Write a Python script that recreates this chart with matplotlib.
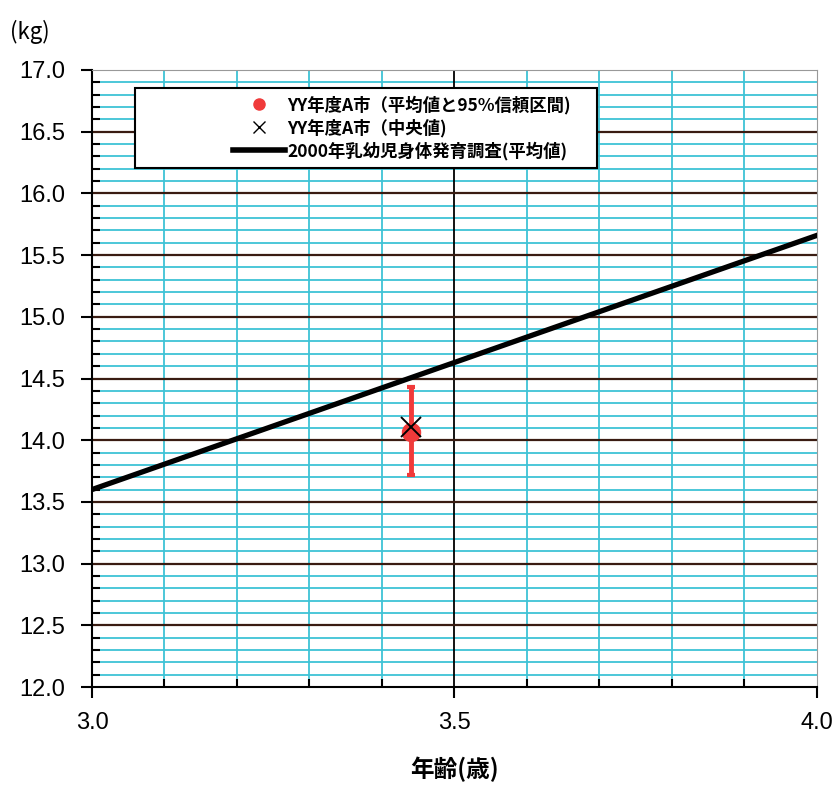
import numpy as np
import matplotlib.pyplot as plt
from matplotlib.patches import Rectangle
from matplotlib.lines import Line2D

plt.rcParams['font.family'] = ['Liberation Sans', 'Noto Sans CJK JP', 'DejaVu Sans']

# reference curve (2000 survey, mean)
ref_age = [3.0, 3.5, 4.0]
ref_weight = [13.60, 14.63, 15.66]

# city A sample
city_age = [3.44]
city_mean = [14.07]
city_lo = [13.72]
city_hi = [14.43]
city_median = [14.11]

xticks = [3.0, 3.5, 4.0]
yticks = [12.0, 12.5, 13.0, 13.5, 14.0, 14.5, 15.0, 15.5, 16.0, 16.5, 17.0]

fig = plt.figure(figsize=(8.35, 7.85), dpi=100)
ax = fig.add_axes([92 / 835, 1 - 687 / 785, 725 / 835, 617 / 785])
ax.set_xlim(3.0, 4.0)
ax.set_ylim(12.0, 17.0)

# grid
cyan = '#3ec3d6'
for v in np.arange(3.1, 4.0, 0.1):
    if abs(v - 3.5) > 1e-6:
        ax.axvline(v, color=cyan, lw=1.3, zorder=1)
ax.axvline(3.5, color='black', lw=1.3, zorder=1.5)
for v in np.arange(12.1, 17.0, 0.1):
    if abs(v * 2 - round(v * 2)) > 1e-6:
        ax.axhline(v, color=cyan, lw=1.3, zorder=1)
for v in yticks[1:-1]:
    ax.axhline(v, color='#3a1c12', lw=1.6, zorder=1.5)

ax.plot(ref_age, ref_weight, color='black', lw=3.8, zorder=3)

yerr = [np.array(city_mean) - np.array(city_lo), np.array(city_hi) - np.array(city_mean)]
ax.errorbar(city_age, city_mean, yerr=yerr, fmt='o', color='#f03a3a', ms=13,
            elinewidth=3.5, capsize=3, capthick=3, zorder=4)
ax.plot(city_age, city_median, 'x', color='black', ms=15, mew=1.4, zorder=5)

ax.set_xticks(xticks)
ax.set_xticklabels(['3.0', '3.5', '4.0'])
ax.set_yticks(yticks)
ax.set_yticklabels([f'{v:.1f}' for v in yticks])
ax.set_xticks(np.arange(3.0, 4.01, 0.1), minor=True)
ax.set_yticks(np.arange(12.0, 17.01, 0.1), minor=True)
ax.tick_params(axis='both', which='major', direction='out', length=8, width=1.5,
               labelsize=17, colors='black')
ax.tick_params(axis='x', which='major', pad=10)
ax.tick_params(axis='y', which='major', pad=11)
ax.tick_params(axis='both', which='minor', direction='in', length=6, width=1.5)

ax.spines['left'].set_linewidth(1.5)
ax.spines['bottom'].set_linewidth(1.5)
ax.spines['top'].set_color('#999999')
ax.spines['right'].set_color('#999999')

ax.set_xlabel('年齢(歳)', fontsize=17, fontweight='bold', labelpad=16,
              family=['Noto Sans CJK JP', 'DejaVu Sans'])
fig.text(10 / 835, 1 - 32 / 785, '(kg)', fontsize=16, va='center', ha='left',
         family=['Noto Sans CJK JP', 'DejaVu Sans'])

# legend box
ax.add_patch(Rectangle((43 / 725, 1 - 98 / 617), 462 / 725, 80 / 617,
                       transform=ax.transAxes, facecolor='white',
                       edgecolor='black', lw=1.5, zorder=6))
handles = [
    Line2D([], [], marker='o', color='#f03a3a', ls='none', ms=8),
    Line2D([], [], marker='x', color='black', ls='none', ms=9, mew=1.0),
    Line2D([], [], color='black', lw=4),
]
labels = ['YY年度A市（平均値と95%信頼区間)', 'YY年度A市（中央値)', '2000年乳幼児身体発育調査(平均値)']
leg = ax.legend(handles, labels, loc='center',
                bbox_to_anchor=(310 / 725, 1 - 58 / 617), bbox_transform=ax.transAxes,
                frameon=False, handlelength=3.0, handletextpad=0.1,
                labelspacing=0.25,
                prop={'weight': 'bold', 'size': 12.5,
                      'family': ['Noto Sans CJK JP', 'DejaVu Sans']})
leg.set_zorder(7)

fig.savefig('out.png', dpi=100)
